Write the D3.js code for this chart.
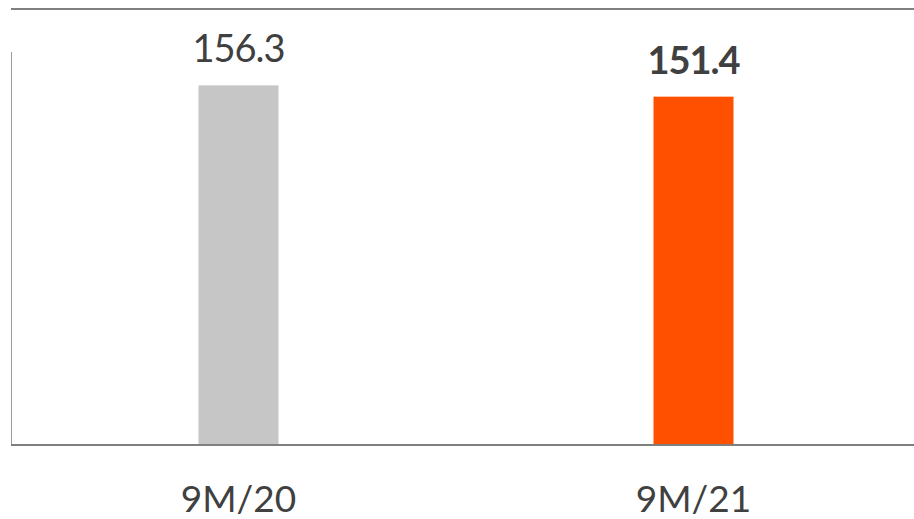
<!DOCTYPE html>
<html>
<head>
<meta charset="utf-8">
<script src="https://cdn.jsdelivr.net/npm/d3@7"></script>
<style>
  html, body { margin: 0; padding: 0; background: #ffffff; }
  svg { display: block; }
</style>
</head>
<body>
<svg id="chart" width="914" height="519"></svg>
<script>
const categories = ["9M/20", "9M/21"];
const values = [156.3, 151.4];
const valueLabels = ["156.3", "151.4"];
const barColors = ["#c6c6c6", "#ff5000"];
const labelWeights = ["normal", "bold"];

const svg = d3.select("#chart");
const W = 914, H = 519;
const base = 445;

const x = d3.scaleBand().domain(categories).range([11, 921]).padding(0);
const y = d3.scaleLinear().domain([0, 189.5]).range([base, 9]);
const barW = 80;

// top rule
svg.append("line")
  .attr("x1", 11).attr("x2", W)
  .attr("y1", 9).attr("y2", 9)
  .attr("stroke", "#808080").attr("stroke-width", 2);

// left axis line
svg.append("line")
  .attr("x1", 11.5).attr("x2", 11.5)
  .attr("y1", 52).attr("y2", base)
  .attr("stroke", "#9a9a9a").attr("stroke-width", 1);

// bars
svg.selectAll("rect.bar")
  .data(categories)
  .join("rect")
  .attr("class", "bar")
  .attr("x", d => x(d) + x.bandwidth() / 2 - barW / 2)
  .attr("width", barW)
  .attr("y", (d, i) => y(values[i]))
  .attr("height", (d, i) => base - y(values[i]))
  .attr("fill", (d, i) => barColors[i]);

// baseline (x axis)
svg.append("line")
  .attr("x1", 11).attr("x2", W)
  .attr("y1", base).attr("y2", base)
  .attr("stroke", "#7f7f7f").attr("stroke-width", 2);

// value labels
svg.selectAll("text.val")
  .data(categories)
  .join("text")
  .attr("class", "val")
  .attr("x", d => x(d) + x.bandwidth() / 2)
  .attr("y", (d, i) => y(values[i]) - 23)
  .attr("text-anchor", "middle")
  .attr("font-family", "Lato, 'Open Sans', sans-serif")
  .attr("font-size", 38)
  .attr("letter-spacing", -1)
  .attr("font-weight", (d, i) => labelWeights[i])
  .attr("fill", "#404040")
  .text((d, i) => valueLabels[i]);

// category labels
svg.selectAll("text.cat")
  .data(categories)
  .join("text")
  .attr("class", "cat")
  .attr("x", d => x(d) + x.bandwidth() / 2)
  .attr("y", 511.5)
  .attr("text-anchor", "middle")
  .attr("font-family", "Lato, 'Open Sans', sans-serif")
  .attr("font-size", 37)
  .attr("fill", "#404040")
  .text(d => d);
</script>
</body>
</html>
